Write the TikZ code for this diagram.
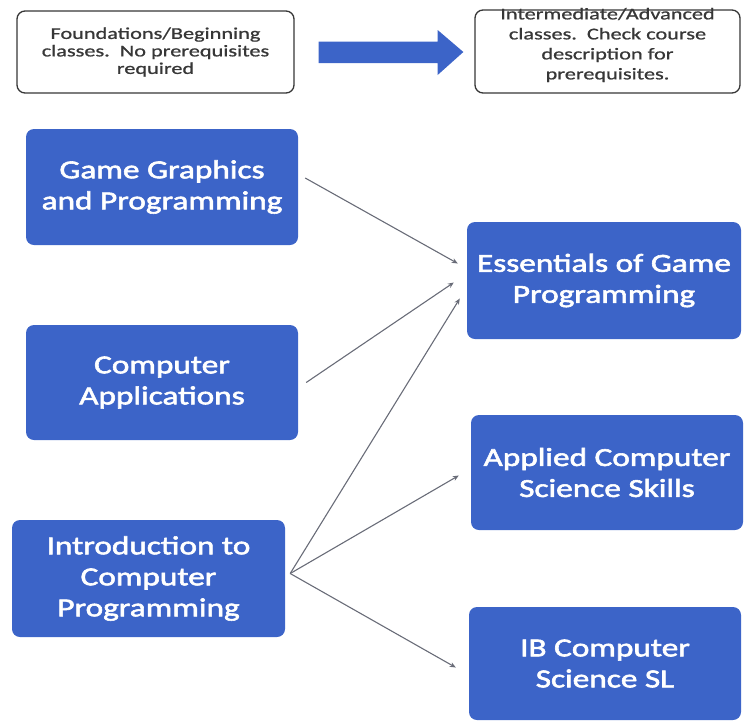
\documentclass[tikz,border=0pt]{standalone}
\usepackage{fontspec}
\setmainfont{Carlito}
\newfontfamily\boxfont[FakeStretch=1.28,FakeBold=2.2]{Carlito}
\newfontfamily\notefont[FakeStretch=1.35,FakeBold=0.8]{Carlito}
\usetikzlibrary{calc,arrows.meta}
\definecolor{boxblue}{RGB}{60,100,200}
\definecolor{notegray}{RGB}{55,55,55}
\definecolor{conngray}{RGB}{105,108,120}
\tikzset{
  course/.style={draw=none, fill=boxblue, rounded corners=8pt, text=white,
    align=center, font=\boxfont\fontsize{26}{31}\selectfont, inner sep=0pt},
  note/.style={draw=notegray, line width=1.3pt, rounded corners=8pt, fill=white,
    text=notegray, align=center, inner sep=0pt},
  conn/.style={draw=conngray, line width=1.1pt, -{Stealth[length=6pt,width=5pt]}},
  bigarrow/.style={fill=boxblue, draw=none}
}
\begin{document}
\begin{tikzpicture}[x=1pt,y=-1pt]
\useasboundingbox (0,0) rectangle (744,721);
% legend boxes
\node[note, minimum width=277pt, minimum height=82pt, font=\notefont\fontsize{16.5}{17.5}\selectfont] (found) at (155.5,52)
  {Foundations/Beginning\\classes.\ \ No prerequisites\\required};
\node[note, minimum width=265pt, minimum height=83pt] (inter) at (607.5,51.5) {};
\node[text=notegray, align=center, font=\notefont\fontsize{16.5}{20}\selectfont, inner sep=0pt] (intertext) at (607.5,45)
  {Intermediate/Advanced\\classes.\ \ Check course\\description for\\prerequisites.};
% block arrow between legend boxes
\fill[bigarrow] ($(found.east)+(24,-10.5)$) -- ($(found.east)+(143,-10.5)$)
  -- ($(found.east)+(143,-22)$) -- ($(inter.west)+(-11,0.5)$)
  -- ($(found.east)+(143,23)$) -- ($(found.east)+(143,11)$)
  -- ($(found.east)+(24,11)$) -- cycle;
% course boxes
\node[course, minimum width=272pt, minimum height=116pt] (gg) at (162,187)
  {Game Graphics\\and Programming};
\node[course, minimum width=272pt, minimum height=115pt] (ca) at (162,382.5)
  {Computer\\Applications};
\node[course, minimum width=273pt, minimum height=117pt] (icp) at (148.5,578.5)
  {Introduction to\\Computer\\Programming};
\node[course, minimum width=274pt, minimum height=117pt] (egp) at (604,280.5)
  {Essentials of Game\\Programming};
\node[course, minimum width=272pt, minimum height=115pt] (acs) at (607,472.5)
  {Applied Computer\\Science Skills};
\node[course, minimum width=272pt, minimum height=113pt] (ib) at (605,663.5)
  {IB Computer\\Science SL};
% connectors
\draw[conn] ($(gg.east)+(7,-9)$) -- ($(egp.west)+(-9,-17)$);
\draw[conn] ($(ca.east)+(8,0)$) -- ($(egp.west)+(-13,2)$);
\draw[conn] ($(icp.east)+(5,-5)$) -- ($(egp.west)+(-7,18)$);
\draw[conn] ($(icp.east)+(5,-5)$) -- ($(acs.west)+(-12,3)$);
\draw[conn] ($(icp.east)+(5,-5)$) -- ($(ib.west)+(-13,4)$);
\end{tikzpicture}
\end{document}
